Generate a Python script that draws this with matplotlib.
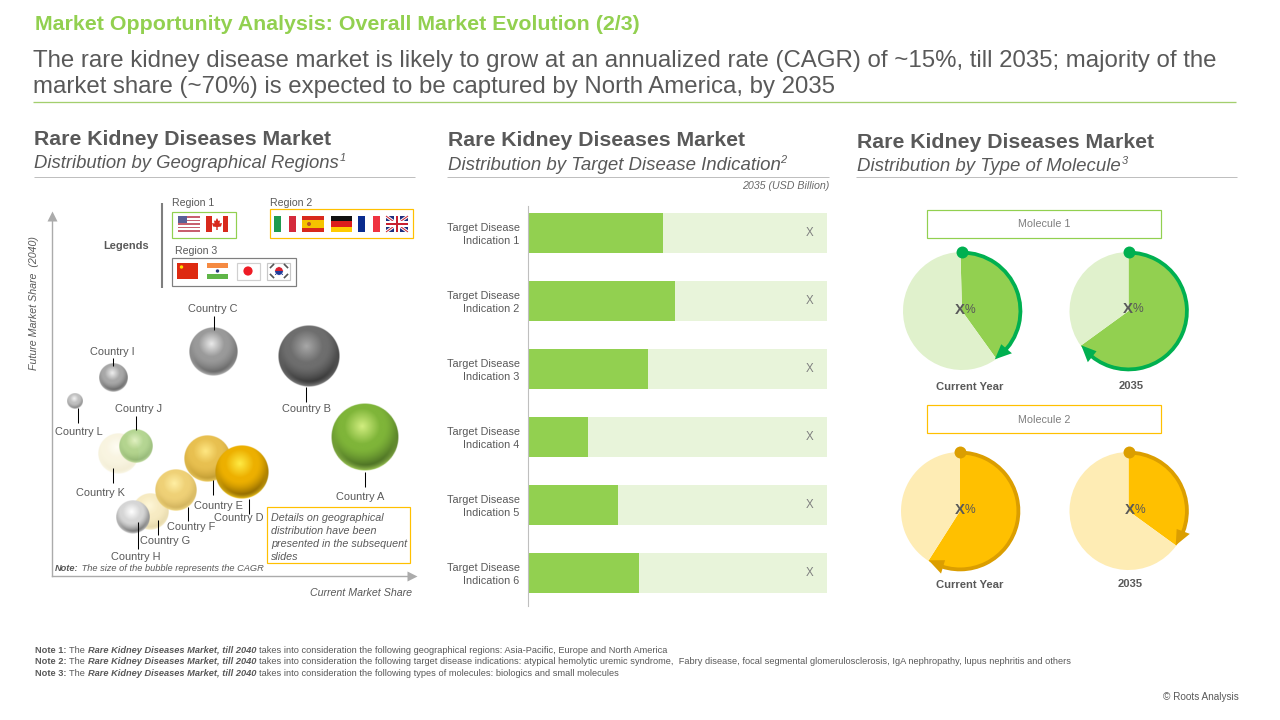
import numpy as np
import matplotlib
matplotlib.use("Agg")
import matplotlib.pyplot as plt
from matplotlib.patches import Rectangle, Circle, Arc, Polygon
from matplotlib.transforms import ScaledTranslation

# ---------- data ----------
bubble_names = ["Country A", "Country B", "Country C", "Country D", "Country E", "Country F",
                "Country G", "Country H", "Country I", "Country J", "Country K", "Country L"]
current_share = [86.9, 71.2, 44.9, 52.8, 43.1, 34.4, 27.2, 22.5, 16.9, 23.1, 18.3, 6.4]
future_share = [38.6, 61.1, 62.4, 28.9, 32.5, 23.9, 17.8, 16.4, 55.0, 36.1, 33.9, 48.6]
cagr_size = [9.4, 8.5, 6.8, 7.5, 6.4, 5.8, 5.1, 4.6, 3.9, 4.6, 5.6, 2.1]

indications = ["Target Disease\nIndication %d" % i for i in range(1, 7)]
indication_values = [45.1, 49.2, 40.1, 20.1, 30.1, 37.1]
indication_labels = ["X", "X", "X", "X", "X", "X"]

molecule_names = ["Molecule 1", "Molecule 2"]
period_names = ["Current Year", "2035"]
molecule1_share = [40.5, 65.0]
molecule2_share = [59.0, 35.0]

# ---------- canvas ----------
W, H = 1280, 720
GREY = "#595959"
GREEN = "#92D050"
PALE_GREEN = "#E8F4DA"
GOLD = "#FFC000"
plt.rcParams["font.family"] = ["Liberation Sans", "DejaVu Sans"]
fig = plt.figure(figsize=(W / 100, H / 100), dpi=100, facecolor="white")


def px_axes(x0, y0, x1, y1, **kw):
    """Axes from pixel box (y measured from the top)."""
    return fig.add_axes([x0 / W, 1 - y1 / H, (x1 - x0) / W, (y1 - y0) / H], **kw)


ov = fig.add_axes([0, 0, 1, 1], zorder=20)
ov.set_xlim(0, W)
ov.set_ylim(H, 0)
ov.axis("off")
ov.patch.set_alpha(0)
rend = fig.canvas.get_renderer()


def T(x, y, s, px=11, w=None, ha="left", va="center", color=GREY, **kw):
    t = ov.text(x, y + 0.08 * px, s, fontsize=px * 0.72, ha=ha, va=va, color=color, **kw)
    if w is not None:
        cur = t.get_window_extent(rend).width if t.get_rotation() == 0 else t.get_window_extent(rend).height
        t.set_fontsize(t.get_fontsize() * w / cur)
    return t


def adv(s, **kw):
    a = ov.text(0, 0, "|" + s + "|", **kw)
    b = ov.text(0, 0, "||", **kw)
    v = a.get_window_extent(rend).width - b.get_window_extent(rend).width
    a.remove()
    b.remove()
    return v


def runs(x, y, parts, px, color=GREY):
    for s, st in parts:
        kw = dict(fontsize=px * 0.72)
        if "b" in st:
            kw["fontweight"] = "bold"
        if "i" in st:
            kw["fontstyle"] = "italic"
        ov.text(x, y + 0.08 * px, s, va="center", ha="left", color=color, **kw)
        x += adv(s, **kw)
    return x


def hline(x0, x1, y, c="#BFBFBF", lw=1.0):
    ov.plot([x0, x1], [y, y], color=c, lw=lw * 0.72, solid_capstyle="butt")


def box(x0, y0, x1, y1, ec, lw=1.2, fc="none", z=3):
    ov.add_patch(Rectangle((x0, y0), x1 - x0, y1 - y0, fc=fc, ec=ec, lw=lw * 0.72, zorder=z))


# ---------- header ----------
T(35, 23, "Market Opportunity Analysis: Overall Market Evolution (2/3)", px=20, w=603,
  color=GREEN, fontweight="bold")
T(33, 59, "The rare kidney disease market is likely to grow at an annualized rate (CAGR) of ~15%, till 2035; majority of the",
  px=24, w=1183)
T(33, 85, "market share (~70%) is expected to be captured by North America, by 2035", px=24, w=803)
hline(33, 1236, 101.5, c="#A3CF6E", lw=1.3)

heads = [(34, 138, 162, 297, "Distribution by Geographical Regions", 305, "1", 34, 415),
         (448, 139, 164, 297, "Distribution by Target Disease Indication", 332, "2", 447, 829),
         (857, 141, 165, 297, "Distribution by Type of Molecule", 264, "3", 856, 1237)]
for x, y1, y2, w1, sub, w2, sup, r0, r1 in heads:
    T(x, y1, "Rare Kidney Diseases Market", px=20, w=w1, fontweight="bold")
    T(x, y2, sub, px=18, w=w2, fontstyle="italic")
    T(x + w2 + 0.5, y2 - 5, sup, px=11, fontstyle="italic")
    hline(r0, r1, 176.5)
T(829, 185, "2035 (USD Billion)", px=10.5, w=88, ha="right", fontstyle="italic", alpha=0.9)

# ---------- bubble panel ----------
bx = px_axes(52, 216, 412, 576, zorder=5)
bx.set_xlim(0, 100)
bx.set_ylim(0, 100)
bx.set_xticks([])
bx.set_yticks([])
bx.patch.set_alpha(0)
for s in ("top", "right"):
    bx.spines[s].set_visible(False)
for s in ("left", "bottom"):
    bx.spines[s].set_color("#ABABAB")
    bx.spines[s].set_linewidth(1.0)
bx.plot([1.0], [0], marker=">", ms=7.5, color="#ABABAB", transform=bx.transAxes, clip_on=False, mec="none")
bx.plot([0], [1.0], marker="^", ms=7.5, color="#ABABAB", transform=bx.transAxes, clip_on=False, mec="none")

styles = {
    "Country A": ("#7FB539", "#D2EE80", "#34501A", 1.0),
    "Country B": ("#6E6E6E", "#A8A8A8", "#1E1E1E", 1.0),
    "Country C": ("#9A9A9A", "#EAEAEA", "#505050", 1.0),
    "Country D": ("#EDB000", "#FFEB45", "#664A00", 1.0),
    "Country E": ("#E8BE4A", "#FFE77F", "#B08A20", 0.97),
    "Country F": ("#EFCF70", "#FFEE9F", "#C0A048", 0.95),
    "Country G": ("#F6E8B8", "#FFF6D2", "#D8C890", 0.85),
    "Country H": ("#D6D6D6", "#FFFFFF", "#4A4A4A", 1.0),
    "Country I": ("#A8A8A8", "#EFEFEF", "#4A4A4A", 1.0),
    "Country J": ("#A8CF80", "#DCEFB8", "#6F9A50", 0.85),
    "Country K": ("#F8F3DC", "#FFFDF2", "#EDE6C6", 0.85),
    "Country L": ("#C0C0C0", "#F4F4F4", "#6A6A6A", 1.0),
}
draw_order = ["Country K", "Country J", "Country L", "Country I", "Country C", "Country B", "Country A",
              "Country E", "Country G", "Country F", "Country H", "Country D"]


def rgb(h):
    return np.array(matplotlib.colors.to_rgb(h))


def sphere(base, light, dark, alpha):
    n = 120
    yy, xx = np.mgrid[-1:1:n * 1j, -1:1:n * 1j]
    d = np.hypot(xx, yy)
    t = np.clip(np.hypot(xx + 0.08, yy + 0.32) / 1.32, 0, 1)
    a = np.clip(t / 0.40, 0, 1)[..., None]
    b = np.clip((t - 0.5) / 0.5, 0, 1)[..., None] ** 1.5
    img = rgb(light) * (1 - a) + rgb(base) * a
    img = img * (1 - b) + rgb(dark) * b
    rim = (np.clip((d - 0.82) / 0.18, 0, 1) * np.clip(yy + 0.1, 0, 1) * 1.0)[..., None]
    img = img * (1 - rim) + (rgb(base) * 0.6 + rgb(light) * 0.4) * rim
    al = np.clip((1 - d) * n / 2, 0, 1) * alpha
    return np.dstack([img, al])


for z, name in enumerate(draw_order):
    i = bubble_names.index(name)
    x, y, r = current_share[i], future_share[i], cagr_size[i]
    bx.imshow(sphere(*styles[name]), extent=(x - r, x + r, y - r, y + r), origin="upper",
              aspect="auto", interpolation="bilinear", zorder=3 + z)
bx.set_xlim(0, 100)
bx.set_ylim(0, 100)

label_layout = {
    "Country A": (360.5, 496, 365, 472, 487), "Country B": (306, 408, 306, 387, 402),
    "Country C": (213, 308, 213.5, 316, 330), "Country D": (239, 517, 249, 499, 514),
    "Country E": (218, 505, 212.5, 480, 495), "Country F": (191, 526, 187.5, 507, 521),
    "Country G": (165, 540, 158, 520, 535), "Country H": (136, 556, 137.5, 522, 549),
    "Country I": (112, 351, 112.5, 358, 366), "Country J": (139, 408, 135.5, 416, 430),
    "Country K": (100, 492, 112.5, 468, 483), "Country L": (79, 431, 77.5, 408, 423),
}
for name in bubble_names:
    tx, ty, lx, l0, l1 = label_layout[name]
    T(tx, ty, name, px=11, ha="center")
    ov.plot([lx, lx], [l0, l1], color="black", lw=0.75, solid_capstyle="butt")

T(34.5, 302, "Future Market Share  (2040)", px=10.5, ha="center", rotation=90, fontstyle="italic", w=135)
T(412, 592, "Current Market Share", px=10.5, ha="right", fontstyle="italic", w=102)
end = runs(55, 568, [("Note:", "bi"), (" The size of the bubble represents the CAGR", "i")], 9.3)

box(266.5, 507, 410, 562.5, GOLD)
for yy, s in zip((517, 530, 543, 556),
                 ("Details on geographical", "distribution have been", "presented in the subsequent", "slides")):
    T(271, yy, s, px=10.8, fontstyle="italic")

# legend
T(126.5, 245, "Legends", px=11, ha="center", fontweight="bold")
ov.plot([162, 162], [203, 288], color="#7F7F7F", lw=1.5, solid_capstyle="butt")
T(172, 202, "Region 1", px=10.5)
T(269.5, 202, "Region 2", px=10.5)
T(175, 250, "Region 3", px=10.5)
box(172, 211.7, 235.5, 238, GREEN)
box(270, 209, 412.5, 237.5, GOLD)
box(172, 257.7, 295.5, 285.5, "#7F7F7F")


def R(x0, y0, x1, y1, c):
    ov.add_patch(Rectangle((x0, y0), x1 - x0, y1 - y0, fc=c, ec="none", zorder=4))


def flag_us(x0, y0, x1, y1):
    R(x0, y0, x1, y1, "white")
    h = (y1 - y0) / 9
    for k in range(0, 9, 2):
        R(x0, y0 + k * h, x1, y0 + (k + 1) * h, "#C8606F")
    R(x0, y0, x0 + (x1 - x0) * 0.42, y0 + 4 * h, "#5A5F96")


def flag_ca(x0, y0, x1, y1):
    R(x0, y0, x1, y1, "white")
    w = (x1 - x0) / 4
    R(x0, y0, x0 + w, y1, "#D8291C")
    R(x1 - w, y0, x1, y1, "#D8291C")
    cx, cy = (x0 + x1) / 2, (y0 + y1) / 2
    ov.add_patch(Polygon([(cx, cy - 6), (cx + 1.5, cy - 3), (cx + 3, cy - 3.5), (cx + 2.5, cy - 0.5), (cx + 5, cy - 1),
                          (cx + 4, cy + 2.5), (cx + 0.7, cy + 3), (cx + 0.7, cy + 6), (cx - 0.7, cy + 6), (cx - 0.7, cy + 3),
                          (cx - 4, cy + 2.5), (cx - 5, cy - 1), (cx - 2.5, cy - 0.5), (cx - 3, cy - 3.5), (cx - 1.5, cy - 3)],
                         fc="#D8291C", ec="none", zorder=5))


def flag_v(x0, y0, x1, y1, cols):
    w = (x1 - x0) / 3
    for k, c in enumerate(cols):
        R(x0 + k * w, y0, x0 + (k + 1) * w, y1, c)


def flag_h(x0, y0, x1, y1, cols, ratio=(1, 1, 1)):
    h = (y1 - y0) / sum(ratio)
    c0 = y0
    for c, q in zip(cols, ratio):
        R(x0, c0, x1, c0 + q * h, c)
        c0 += q * h


def flag_uk(x0, y0, x1, y1):
    R(x0, y0, x1, y1, "#1F2F7F")
    for a, b in (((x0, y0), (x1, y1)), ((x0, y1), (x1, y0))):
        ov.plot([a[0], b[0]], [a[1], b[1]], color="white", lw=2.2, zorder=5, solid_capstyle="butt")
        ov.plot([a[0], b[0]], [a[1], b[1]], color="#C8202F", lw=0.7, zorder=6, solid_capstyle="butt")
    cx, cy = (x0 + x1) / 2, (y0 + y1) / 2
    ov.add_patch(Rectangle((cx - 2.6, y0), 5.2, y1 - y0, fc="white", ec="none", zorder=7))
    ov.add_patch(Rectangle((x0, cy - 2.6), x1 - x0, 5.2, fc="white", ec="none", zorder=7))
    ov.add_patch(Rectangle((cx - 1.3, y0), 2.6, y1 - y0, fc="#C8202F", ec="none", zorder=8))
    ov.add_patch(Rectangle((x0, cy - 1.3), x1 - x0, 2.6, fc="#C8202F", ec="none", zorder=8))


flag_us(178, 216, 200, 232)
flag_ca(206, 216, 228, 232)
flag_v(274, 216, 296, 232, ["#1E9B4F", "white", "#D42A3C"])
flag_h(302, 216, 324, 232, ["#D8291C", "#F5C400", "#D8291C"], (1, 2, 1))
ov.add_patch(Circle((309, 224), 2, fc="#B5562A", ec="none", zorder=6))
flag_h(331, 216, 352, 232, ["#111111", "#DD1C1C", "#FFCC00"])
flag_v(358, 216, 380, 232, ["#0A2C8E", "white", "#EF3340"])
flag_uk(386, 216, 408, 232)
R(177, 263, 198, 279, "#DE2A10")
ov.add_patch(Circle((181.5, 267), 1.7, fc="#FFDE00", ec="none", zorder=6))
flag_h(207, 263, 228, 279, ["#F58A42", "white", "#5FB548"])
ov.add_patch(Circle((217.5, 271), 1.7, fc="#2A3A80", ec="none", zorder=6))
box(237, 262.5, 260, 279.5, "#D0D0D0", lw=1.2, fc="white")
ov.add_patch(Circle((248, 271), 4.6, fc="#EE1C25", ec="none", zorder=6))
box(267, 262.5, 290, 279.5, "#C8C8C8", lw=1.2, fc="white")
ov.add_patch(Circle((279, 271), 4.2, fc="#D8202F", ec="none", zorder=6))
ov.add_patch(Rectangle((274.8, 271), 8.4, 4.2, fc="#1F3C9A", ec="none", zorder=6.5))
ov.add_patch(Circle((279, 271), 4.3, fc="none", ec="white", lw=0.5, zorder=7))
for dx, dy in ((-7, -5), (7, -5), (-7, 5), (7, 5)):
    ov.plot([279 + dx - 1.5, 279 + dx + 1.5], [271 + dy + 1.5 * np.sign(dx * dy), 271 + dy - 1.5 * np.sign(dx * dy)],
            color="#555555", lw=1.2, zorder=6)

# ---------- bar panel ----------
ax = px_axes(528, 206, 827, 606, zorder=5)
ypos = np.arange(len(indications))
ax.barh(ypos, [100] * len(ypos), height=40 / 68, color=PALE_GREEN, lw=0)
ax.barh(ypos, indication_values, height=40 / 68, color=GREEN, lw=0)
ax.set_xlim(0, 100)
ax.set_ylim(5 + 33 / 68, -27 / 68)
ax.set_xticks([])
ax.set_yticks(ypos, indications, fontsize=7.8, color=GREY, ha="right", multialignment="right", linespacing=1.4)
ax.tick_params(axis="y", length=0, pad=6)
shift = ScaledTranslation(0, 1 / 100, fig.dpi_scale_trans)
for lab in ax.get_yticklabels():
    lab.set_transform(lab.get_transform() + shift)
for s in ("top", "right", "bottom"):
    ax.spines[s].set_visible(False)
ax.spines["left"].set_color("#BFBFBF")
ax.patch.set_alpha(0)
for y, lab in zip(ypos, indication_labels):
    ax.text(94.2, y, lab, ha="center", va="center", fontsize=8.3, color="#7F7F7F")

# ---------- pies ----------
R0 = 59
SPAN = 1.3
ring_styles = [(GREEN, "#E0F1CC", "#00B050"), (GOLD, "#FEECB4", "#DB9E00")]
centres = [[(962, 311, 91.5), (1128.5, 311, 90)], [(960, 511, 90), (1128.5, 511, 90)]]
for row, shares in enumerate((molecule1_share, molecule2_share)):
    main, pale, ringc = ring_styles[row]
    for col, share in enumerate(shares):
        cx, cy, start = centres[row][col]
        half = SPAN * R0
        p = px_axes(cx - half, cy - half, cx + half, cy + half, zorder=6)
        p.pie([share, 100 - share], colors=[main, pale], startangle=start, counterclock=False, radius=1,
              wedgeprops=dict(linewidth=0))
        p.set_xlim(-SPAN, SPAN)
        p.set_ylim(-SPAN, SPAN)
        p.patch.set_alpha(0)
        a1 = 90
        a0 = 90 - 360 * share / 100
        back = np.degrees(8 / R0)
        p.add_patch(Arc((0, 0), 1.98, 1.98, theta1=a0 + back, theta2=a1, color=ringc, lw=3.8 * 0.72, zorder=5))
        p.plot([0], [1.0], marker="o", ms=8.6, color=ringc, mec="none", zorder=6, clip_on=False)
        te = np.radians(a0)
        tb = np.radians(a0 + 2 * back)
        hw = 7 / R0
        p.add_patch(Polygon([(0.99 * np.cos(te), 0.99 * np.sin(te)),
                             ((0.99 + hw) * np.cos(tb), (0.99 + hw) * np.sin(tb)),
                             ((0.99 - hw) * np.cos(tb), (0.99 - hw) * np.sin(tb))],
                            fc=ringc, ec="none", zorder=6))

for (x, y) in ((964, 309), (1132, 308), (964, 509), (1134, 509)):
    T(x + 0.5, y, "X", px=15, ha="right", fontweight="bold")
    T(x + 0.5, y, "%", px=12, ha="left")

box(927, 210, 1161, 237.5, GREEN)
box(927, 405, 1161, 433, GOLD)
T(1044, 223, molecule_names[0], px=10.5, ha="center", w=52, color="#7F7F7F")
T(1044, 419, molecule_names[1], px=10.5, ha="center", w=52, color="#7F7F7F")
for x, y, s in ((970, 386, period_names[0]), (1131, 385, period_names[1]),
                (970, 584, period_names[0]), (1130, 583, period_names[1])):
    T(x, y, s, px=11.2, ha="center", fontweight="bold")

# ---------- footer ----------
note = "takes into consideration the following "
for yy, n, tail in ((650, "1", "geographical regions: Asia-Pacific, Europe and North America"),
                    (661, "2", "target disease indications: atypical hemolytic uremic syndrome,  Fabry disease, focal segmental glomerulosclerosis, IgA nephropathy, lupus nephritis and others"),
                    (673, "3", "types of molecules: biologics and small molecules")):
    runs(35, yy, [("Note %s: " % n, "b"), ("The ", ""), ("Rare Kidney Diseases Market, till 2040 ", "bi"), (note + tail, "")], 9.32)
T(1239, 696, "\u00a9 Roots Analysis", px=9.5, ha="right", w=76)

fig.savefig("out.png", dpi=100)
